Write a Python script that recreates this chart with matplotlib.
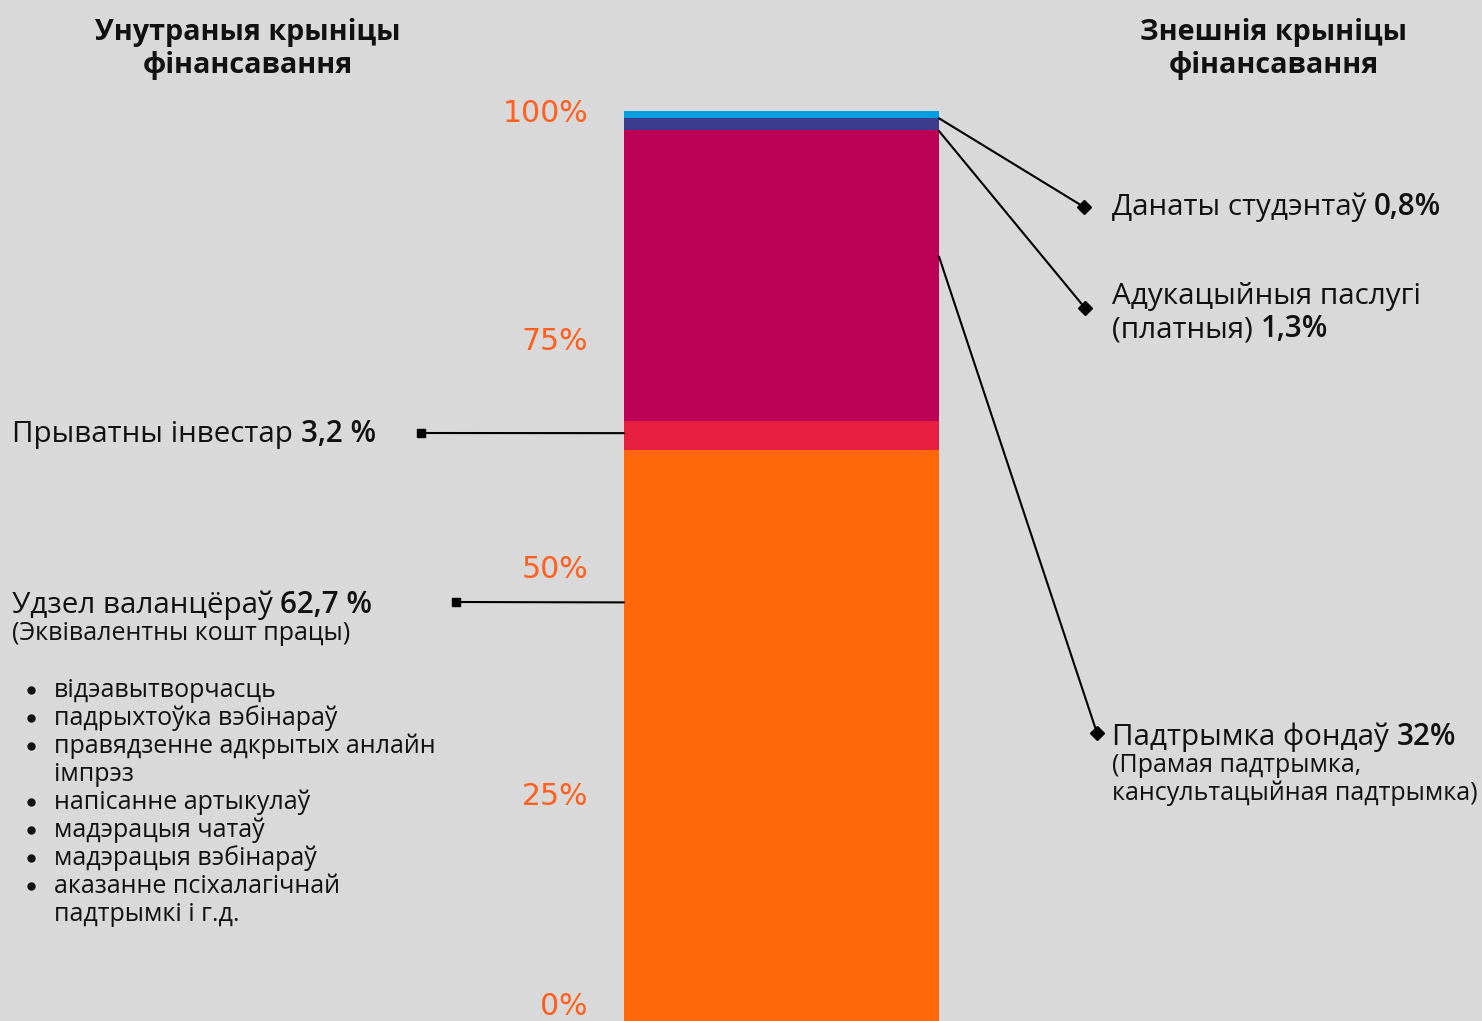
import matplotlib.pyplot as plt
from matplotlib.patches import ConnectionPatch

plt.rcParams['font.family'] = ['Open Sans', 'DejaVu Sans']

# data: one stacked bar, bottom to top
shares = [62.7, 3.2, 32.0, 1.3, 0.8]
colors = ['#FF6709', '#E61E40', '#BC0056', '#3C3C8F', '#009DE0']
ticks = [0, 25, 50, 75, 100]
tick_labels = ['0%', '25%', '50%', '75%', '100%']

title_left = ['Унутраныя крыніцы', 'фінансавання']
title_right = ['Знешнія крыніцы', 'фінансавання']

bullets = [['відэавытворчасць'], ['падрыхтоўка вэбінараў'],
           ['правядзенне адкрытых анлайн', 'імпрэз'], ['напісанне артыкулаў'],
           ['мадэрацыя чатаў'], ['мадэрацыя вэбінараў'],
           ['аказанне псіхалагічнай', 'падтрымкі і г.д.']]

BG = '#D9D9D9'
INK = '#111111'
W, H = 1482, 1021
MAIN, SUB = 21.3, 18

fig = plt.figure(figsize=(W / 100, H / 100), dpi=100, facecolor=BG)

# bar axes
ax = fig.add_axes([624 / W, 0, 315 / W, 910 / H])
ax.set_facecolor('none')
bottom = 0
for v, c in zip(shares, colors):
    ax.bar(0, v, width=1, bottom=bottom, color=c, linewidth=0)
    bottom += v
ax.set_xlim(-0.5, 0.5)
ax.set_ylim(0, 100)
for s in ax.spines.values():
    s.set_visible(False)
ax.set_xticks([])
ax.set_yticks(ticks)
ax.set_yticklabels(tick_labels, color='#FF5F1F', fontsize=21.5, family='DejaVu Sans')
ax.tick_params(axis='y', length=0, pad=26)
ax.get_yticklabels()[0].set_va('bottom')

# overlay in pixel coords for texts and leaders
ov = fig.add_axes([0, 0, 1, 1], zorder=5)
ov.set_xlim(0, W)
ov.set_ylim(H, 0)
ov.axis('off')
ov.patch.set_alpha(0)

renderer = fig.canvas.get_renderer()


def two_part(x, y, normal, bold, size=MAIN):
    t = ov.text(x, y, normal, fontsize=size, color=INK, va='baseline')
    bb = t.get_window_extent(renderer)
    x2 = ov.transData.inverted().transform((bb.x1, bb.y0))[0]
    ov.text(x2, y, bold, fontsize=size, color=INK, va='baseline', weight='semibold')


def leader(xa, ya, xb, yb, marker):
    cp = ConnectionPatch(xyA=(xa, ya), coordsA=ax.transData, xyB=(xb, yb), coordsB=ov.transData,
                         color='black', lw=1.5, zorder=6)
    fig.add_artist(cp)
    ov.plot([xb], [yb], marker=marker, color='black', ms=6 if marker == 's' else 7, zorder=7)


# titles
for i, line in enumerate(title_left):
    ov.text(248, 40 + i * 33, line, fontsize=20.7, weight='bold', ha='center', va='baseline', color=INK)
for i, line in enumerate(title_right):
    ov.text(1274, 40 + i * 33, line, fontsize=20.7, weight='bold', ha='center', va='baseline', color=INK)

# left labels
two_part(12, 442, 'Прыватны інвестар ', '3,2 %')
two_part(12, 613, 'Удзел валанцёраў ', '62,7 %')
ov.text(12, 640, '(Эквівалентны кошт працы)', fontsize=SUB, color=INK, va='baseline')

y = 697
for item in bullets:
    ov.plot([31], [y - 7], marker='o', ms=5, color=INK)
    for line in item:
        ov.text(54, y, line, fontsize=SUB, color=INK, va='baseline')
        y += 28

# right labels
two_part(1112, 215, 'Данаты студэнтаў ', '0,8%')
ov.text(1112, 304, 'Адукацыйныя паслугі', fontsize=MAIN, color=INK, va='baseline')
two_part(1112, 337, '(платныя) ', '1,3%')
two_part(1112, 745, 'Падтрымка фондаў ', '32%')
ov.text(1112, 772, '(Прамая падтрымка,', fontsize=SUB, color=INK, va='baseline')
ov.text(1112, 800, 'кансультацыйная падтрымка)', fontsize=SUB, color=INK, va='baseline')

# leaders
leader(-0.5, 64.6, 421, 433, 's')
leader(-0.5, 46.0, 456, 602, 's')
leader(0.5, 99.2, 1084, 207, 'D')
leader(0.5, 97.8, 1085, 308, 'D')
leader(0.5, 84.0, 1097, 733, 'D')

fig.savefig('out.png', dpi=100, facecolor=BG)
